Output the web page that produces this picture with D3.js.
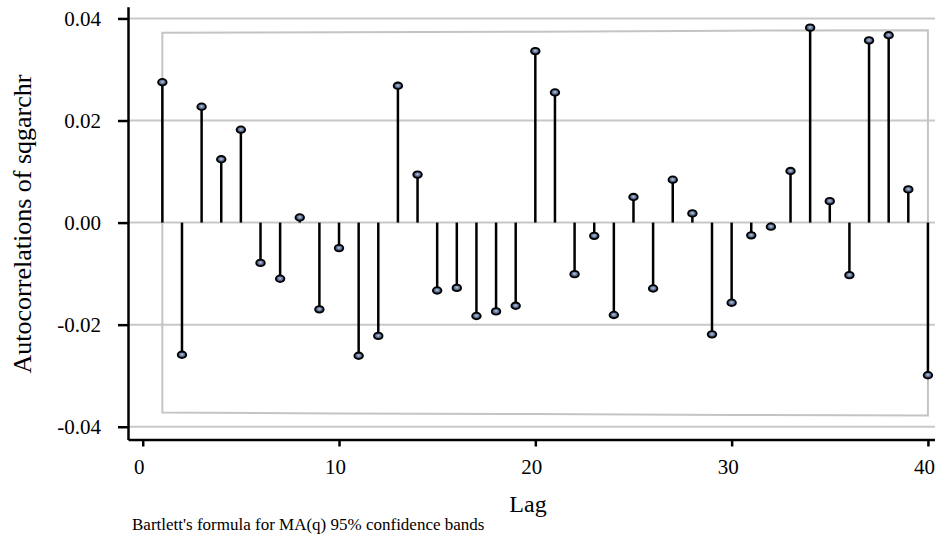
<!DOCTYPE html>
<html>
<head>
<meta charset="utf-8">
<script src="https://cdn.jsdelivr.net/npm/d3@7"></script>
<style>
  body { margin: 0; background: #fff; }
  text { font-family: "Liberation Serif", "DejaVu Serif", serif; }
</style>
</head>
<body>
<script>
// chart data
var lags = d3.range(1, 41);
var acf = [
  0.0275, -0.0259, 0.0227, 0.0124, 0.0182, -0.0079, -0.0110, 0.0010, -0.0170, -0.0050,
  -0.0261, -0.0222, 0.0268, 0.0094, -0.0133, -0.0128, -0.0183, -0.0174, -0.0163, 0.0336,
  0.0255, -0.0101, -0.0026, -0.0181, 0.0050, -0.0129, 0.0084, 0.0018, -0.0219, -0.0157,
  -0.0025, -0.0008, 0.0101, 0.0382, 0.0042, -0.0103, 0.0357, 0.0367, 0.0065, -0.0299
];
var bandLags = [1, 10, 20, 30, 40];
var bandUpper = [0.0372, 0.0373, 0.0374, 0.0376, 0.0377];
var bandLower = [-0.0372, -0.0374, -0.0375, -0.0377, -0.0378];
var yTicks = [-0.04, -0.02, 0, 0.02, 0.04];
var xTicks = [0, 10, 20, 30, 40];

var w = 935, h = 539;

var svg = d3.select("body")
    .append("svg")
    .attr("width", w)
    .attr("height", h);

var x = d3.scaleLinear().domain([-0.75, 40.36]).range([128, 935]);
var y = d3.scaleLinear().domain([-0.0425, 0.0423]).range([439.5, 6.7]);

var fmt = function(d){
    return d3.format(".2f")(d).replace("\u2212", "-");
};

// gridlines
svg.selectAll(".grid")
    .data(yTicks)
    .enter()
    .append("line")
    .attr("class", "grid")
    .attr("x1", 128)
    .attr("x2", w)
    .attr("y1", function(d){ return y(d); })
    .attr("y2", function(d){ return y(d); })
    .attr("stroke", "#c8c8c8")
    .attr("stroke-width", 2);

// confidence band outline
var bandPts = bandLags.map(function(d, i){ return [x(d), y(bandUpper[i])]; })
    .concat(bandLags.slice().reverse().map(function(d, i){
        var j = bandLags.length - 1 - i;
        return [x(d), y(bandLower[j])];
    }));
svg.append("path")
    .attr("d", d3.line()(bandPts) + "Z")
    .attr("fill", "none")
    .attr("stroke", "#c4c4c4")
    .attr("stroke-width", 2);

// stems
svg.selectAll(".stem")
    .data(acf)
    .enter()
    .append("line")
    .attr("class", "stem")
    .attr("x1", function(d, i){ return x(lags[i]); })
    .attr("x2", function(d, i){ return x(lags[i]); })
    .attr("y1", y(0))
    .attr("y2", function(d){ return y(d); })
    .attr("stroke", "#000")
    .attr("stroke-width", 2.5);

// markers
var grad = svg.append("defs").append("radialGradient")
    .attr("id", "mk")
    .attr("cx", "50%").attr("cy", "45%").attr("r", "60%");
grad.append("stop").attr("offset", "0%").attr("stop-color", "#b8c8e8");
grad.append("stop").attr("offset", "60%").attr("stop-color", "#4a5a7a");
grad.append("stop").attr("offset", "100%").attr("stop-color", "#1a2030");

svg.selectAll(".mark")
    .data(acf)
    .enter()
    .append("ellipse")
    .attr("class", "mark")
    .attr("cx", function(d, i){ return x(lags[i]); })
    .attr("cy", function(d){ return y(d); })
    .attr("rx", 4.3)
    .attr("ry", 3.3)
    .attr("fill", "url(#mk)")
    .attr("stroke", "#000")
    .attr("stroke-width", 1.8);

// y axis
var yAxis = svg.append("g")
    .attr("transform", "translate(128,0)")
    .call(d3.axisLeft(y).tickValues(yTicks).tickSize(10).tickSizeOuter(0).tickPadding(17).tickFormat(fmt));
yAxis.select(".domain").attr("stroke", "#000").attr("stroke-width", 2.5);
yAxis.selectAll(".tick line").attr("stroke", "#000").attr("stroke-width", 2.5);
yAxis.selectAll(".tick text")
    .attr("font-family", "Liberation Serif")
    .attr("font-size", 21)
    .attr("fill", "#000");

// x axis
var xAxis = svg.append("g")
    .attr("transform", "translate(0,439.5)")
    .call(d3.axisBottom(x).tickValues(xTicks).tickSize(7).tickSizeOuter(0).tickPadding(12.5));
xAxis.select(".domain").attr("stroke", "#000").attr("stroke-width", 2.5);
xAxis.selectAll(".tick line").attr("stroke", "#000").attr("stroke-width", 2.5);
xAxis.selectAll(".tick text")
    .attr("font-family", "Liberation Serif")
    .attr("font-size", 21)
    .attr("fill", "#000")
    .attr("dx", -4);

// titles
svg.append("text")
    .attr("transform", "translate(31,224) rotate(-90)")
    .attr("text-anchor", "middle")
    .attr("font-size", 26)
    .text("Autocorrelations of sqgarchr");

svg.append("text")
    .attr("x", 528)
    .attr("y", 512)
    .attr("text-anchor", "middle")
    .attr("font-size", 24)
    .text("Lag");

svg.append("text")
    .attr("x", 132)
    .attr("y", 530)
    .attr("font-size", 17)
    .text("Bartlett's formula for MA(q) 95% confidence bands");
</script>
</body>
</html>
